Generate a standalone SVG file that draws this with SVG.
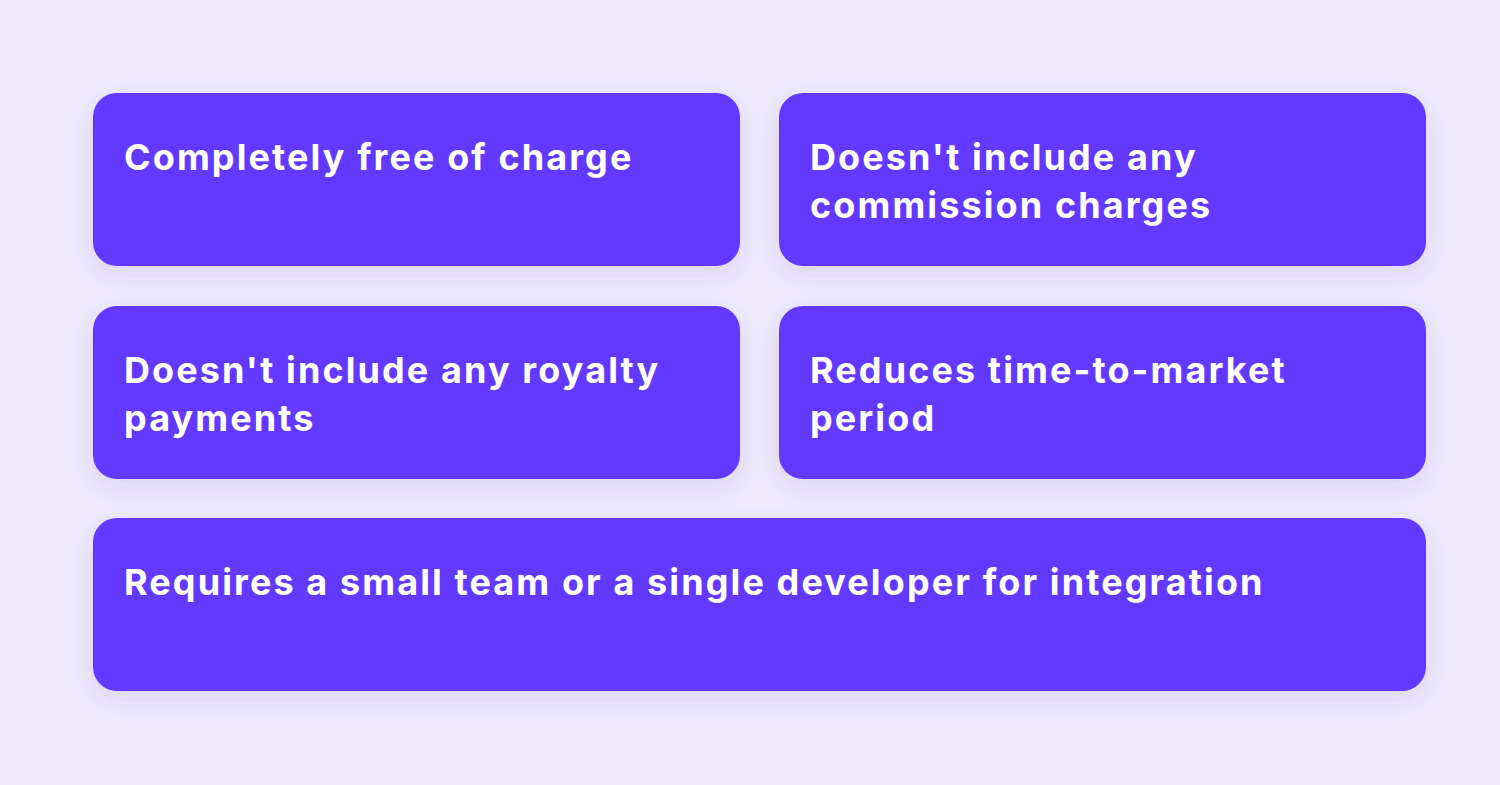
<svg xmlns="http://www.w3.org/2000/svg" width="1500" height="785" viewBox="0 0 1500 785">
<style>
.box{fill:#6439FF;filter:url(#sh)}
.t{font-family:Inter,"Noto Sans",sans-serif;font-weight:700;font-size:36px;fill:#fff;letter-spacing:2.1px}
</style>
<defs><filter id="sh" x="-10%" y="-30%" width="120%" height="160%"><feDropShadow dx="0" dy="8" stdDeviation="12" flood-color="#4a3a8a" flood-opacity="0.12"/></filter></defs>
<rect width="1500" height="785" fill="#EFEBFD"/>
<g id="n1"><rect class="box" x="93" y="93" width="647" height="173" rx="24"/><text class="t" x="124" y="170">Completely free of charge</text></g>
<g id="n2"><rect class="box" x="779" y="93" width="647" height="173" rx="24"/><text class="t" x="810" y="170">Doesn't include any</text><text class="t" x="810" y="218">commission charges</text></g>
<g id="n3"><rect class="box" x="93" y="306" width="647" height="173" rx="24"/><text class="t" x="124" y="383">Doesn't include any royalty</text><text class="t" x="124" y="431">payments</text></g>
<g id="n4"><rect class="box" x="779" y="306" width="647" height="173" rx="24"/><text class="t" x="810" y="383">Reduces time-to-market</text><text class="t" x="810" y="431">period</text></g>
<g id="n5"><rect class="box" x="93" y="518" width="1333" height="173" rx="24"/><text class="t" x="124" y="595">Requires a small team or a single developer for integration</text></g>
<g id="connectors"/>
</svg>
